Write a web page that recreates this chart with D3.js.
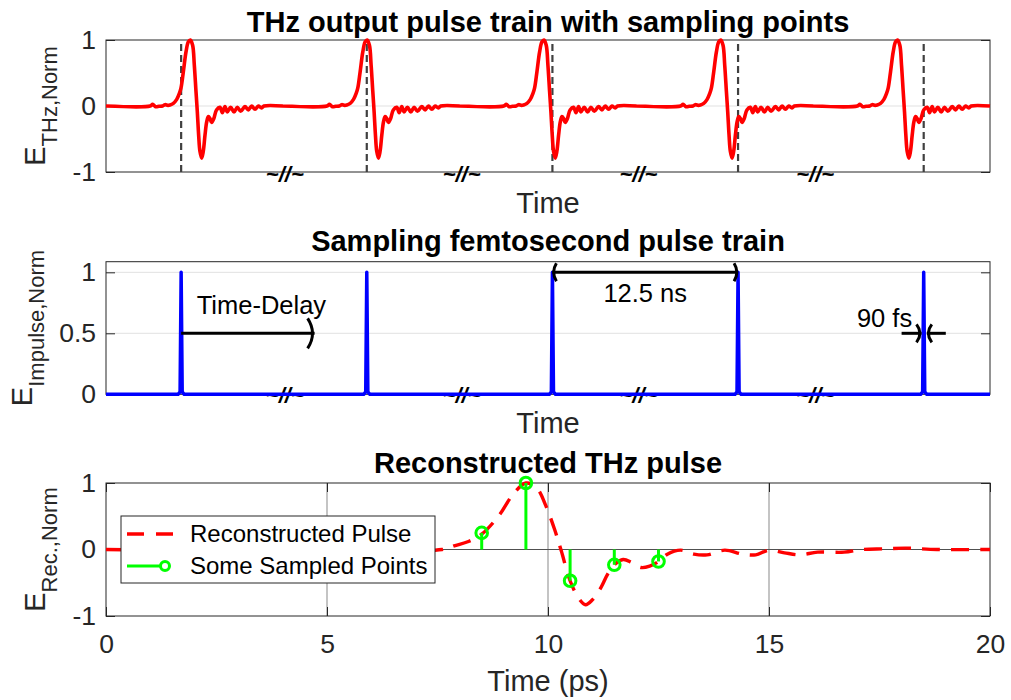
<!DOCTYPE html>
<html>
<head>
<meta charset="utf-8">
<script src="https://cdn.jsdelivr.net/npm/d3@7"></script>
<style>
  html, body { margin: 0; padding: 0; background: #fff; }
  svg { display: block; font-family: "Liberation Sans", Arial, Helvetica, sans-serif; }
</style>
</head>
<body>
<svg id="chart" width="1011" height="700"></svg>
<script>
// ---- data -------------------------------------------------------------
// One THz pulse over a 20 ps window: time (ps) and normalised field
const thzPulseTime  = [0, 5.0, 5.28, 5.6, 6.0, 6.4, 6.67, 7.0, 7.24, 7.62, 8.0, 8.3, 8.48, 8.75,
                       9.05, 9.31, 9.54, 9.8, 9.99, 10.18, 10.33, 10.48, 10.63, 10.82, 11.0, 11.2,
                       11.39, 11.58, 11.76, 11.95, 12.2, 12.5, 12.9, 13.16, 13.46, 13.72, 14.1, 14.48,
                       14.85, 15.23, 15.72, 16.1, 16.48, 16.86, 17.23, 17.6, 17.87, 20];
const thzPulseField = [0, 0, 0.025, -0.01, -0.005, 0, 0.02, 0.01, 0.015, 0.04, 0.1, 0.19, 0.27, 0.52,
                       0.82, 0.97, 1.0, 0.92, 0.62, 0.22, -0.09, -0.44, -0.69, -0.79, -0.69, -0.44,
                       -0.24, -0.16, -0.19, -0.25, -0.19, -0.06, -0.02, -0.1, -0.01, -0.09, -0.02, -0.09,
                       -0.02, -0.08, -0.01, -0.06, 0, -0.05, 0, -0.03, 0, 0];
// Start of each repeated 20 ps window in the pulse train
const pulseWindowStarts = [0, 20, 40, 60, 80];
// Femtosecond sampling instants (display time, ps)
const samplingTimes = [8.5, 29.5, 50.5, 71.5, 92.5];
// Shape of one femtosecond impulse around its instant
const impulseOffsets = [-0.35, -0.12, 0, 0.12, 0.35];
const impulseValues  = [0, 0.02, 1, 0.02, 0];
// Positions of the "~//~" axis-break marks
const breakTimes = [20, 40, 60, 80];

// Reconstructed THz pulse (ps, normalised)
const recTime  = [0, 7.6, 7.9, 8.2, 8.5, 8.9, 9.2, 9.5, 9.75, 9.95, 10.15, 10.3, 10.5, 10.7, 10.85,
                  11.0, 11.2, 11.35, 11.5, 11.7, 11.9, 12.1, 12.3, 12.5, 12.7, 13.0, 13.3, 13.6, 14.0,
                  14.4, 14.7, 15.0, 15.35, 15.7, 16.1, 16.7, 17.1, 17.6, 18.1, 18.8, 20];
const recField = [0, 0, 0.06, 0.12, 0.23, 0.52, 0.82, 1.0, 0.92, 0.66, 0.3, -0.02, -0.47, -0.74, -0.83,
                  -0.76, -0.57, -0.37, -0.23, -0.15, -0.2, -0.27, -0.25, -0.18, -0.07, -0.01, -0.07, -0.08, -0.01,
                  -0.07, -0.08, -0.01, -0.05, -0.08, -0.04, -0.04, 0, 0.01, 0.02, 0, 0];
// Sampled points shown as stems
const sampleTime  = [8.5, 9.5, 10.5, 11.5, 12.5];
const sampleField = [0.25, 1.0, -0.47, -0.23, -0.18];

// Tick values
const yTicksTrain   = [-1, 0, 1];
const yTicksImpulse = [0, 0.5, 1];
const yTicksRec     = [-1, 0, 1];
const xTicksRec     = [0, 5, 10, 15, 20];

// ---- layout -----------------------------------------------------------
const svg = d3.select("#chart");
const X0 = 106, X1 = 990, XC = (X0 + X1) / 2;
const AX = "#262626";
const FONT = '"Liberation Sans", Arial, Helvetica, sans-serif';

const xTrain = d3.scaleLinear().domain([0, 100]).range([X0, X1]);
const y1 = d3.scaleLinear().domain([-1, 1]).range([172, 40]);
const y2 = d3.scaleLinear().domain([0, 1.087]).range([394.3, 261.7]);
const xRec = d3.scaleLinear().domain([0, 20]).range([X0, X1]);
const y3 = d3.scaleLinear().domain([-1, 1]).range([616, 483]);

function styleAxis(g) {
  g.select(".domain").remove();
  g.attr("font-family", FONT).attr("font-size", 26.5);
  g.selectAll(".tick line").attr("stroke", AX).attr("stroke-width", 1);
  g.selectAll(".tick text").attr("fill", AX);
}

// box, inward ticks on all sides, optional light horizontal grid
function drawFrame(y, yTicks, gridY, x, xTicks) {
  const g = svg.append("g");
  const top = y.range()[1], bot = y.range()[0];
  if (gridY) {
    g.selectAll(null).data(gridY).join("line")
      .attr("x1", X0).attr("x2", X1)
      .attr("y1", d => y(d)).attr("y2", d => y(d))
      .attr("stroke", "#e1e1e1").attr("stroke-width", 1);
  }
  g.append("rect").attr("x", X0).attr("y", top)
    .attr("width", X1 - X0).attr("height", bot - top)
    .attr("fill", "none").attr("stroke", AX).attr("stroke-width", 1);
  g.append("g").attr("transform", `translate(${X0},0)`)
    .call(d3.axisLeft(y).tickValues(yTicks).tickSize(-9).tickPadding(10).tickFormat(d => String(d)))
    .call(styleAxis);
  g.append("g").attr("transform", `translate(${X1},0)`)
    .call(d3.axisRight(y).tickValues(yTicks).tickSize(-9).tickFormat(""))
    .call(styleAxis);
  if (x) {
    g.append("g").attr("transform", `translate(0,${bot})`)
      .call(d3.axisBottom(x).tickValues(xTicks).tickSize(-9).tickPadding(18.5).tickFormat(d => String(d)))
      .call(styleAxis);
    g.append("g").attr("transform", `translate(0,${top})`)
      .call(d3.axisTop(x).tickValues(xTicks).tickSize(-9).tickFormat(""))
      .call(styleAxis);
  }
  return g;
}

function title(text, baseline) {
  svg.append("text").attr("x", XC).attr("y", baseline)
    .attr("text-anchor", "middle").attr("font-weight", "bold")
    .attr("font-size", 29).attr("fill", "#000").text(text);
}
function xLabel(text, baseline) {
  svg.append("text").attr("x", XC).attr("y", baseline)
    .attr("text-anchor", "middle").attr("font-size", 29).attr("fill", AX).text(text);
}
function yLabel(main, sub, x, cy) {
  const t = svg.append("text")
    .attr("transform", `translate(${x},${cy}) rotate(-90)`)
    .attr("text-anchor", "middle").attr("fill", AX);
  t.append("tspan").attr("font-size", 29).text(main);
  t.append("tspan").attr("font-size", 22).attr("dy", 12).text(sub);
}
function breakMarks(y) {
  svg.append("g").selectAll("text").data(breakTimes).join("text")
    .attr("x", d => xTrain(d) + 2).attr("y", y)
    .attr("text-anchor", "middle").attr("font-size", 22)
    .attr("font-weight", "bold").attr("font-style", "italic")
    .attr("fill", "#000").text("~//~");
}

// ---- panel 1: THz pulse train ------------------------------------------
drawFrame(y1, yTicksTrain, [0]);
title("THz output pulse train with sampling points", 31.7);
xLabel("Time", 212.8);
yLabel("E", "THz,Norm", 45, 106);

const trainPoints = pulseWindowStarts.flatMap(s =>
  thzPulseTime.map((t, i) => [s + t, thzPulseField[i]]));

svg.append("g").selectAll("line").data(samplingTimes).join("line")
  .attr("x1", d => xTrain(d)).attr("x2", d => xTrain(d))
  .attr("y1", y1(-1)).attr("y2", y1(1))
  .attr("stroke", "#404040").attr("stroke-width", 2.2)
  .attr("stroke-dasharray", "7,4");

svg.append("path").datum(trainPoints)
  .attr("d", d3.line().x(d => xTrain(d[0])).y(d => y1(d[1])).curve(d3.curveCatmullRom.alpha(0.5)))
  .attr("fill", "none").attr("stroke", "#ff0000").attr("stroke-width", 3.6)
  .attr("stroke-linejoin", "round");

breakMarks(182);

// ---- panel 2: femtosecond sampling pulses -------------------------------
drawFrame(y2, yTicksImpulse, [0.5, 1]);
title("Sampling femtosecond pulse train", 251);
xLabel("Time", 432.5);
yLabel("E", "Impulse,Norm", 32, 328);

breakMarks(403);

const impulsePoints = [[0, 0]].concat(
  samplingTimes.flatMap(s => impulseOffsets.map((o, i) => [s + o, impulseValues[i]])),
  [[100, 0]]);
svg.append("path").datum(impulsePoints)
  .attr("d", d3.line().x(d => xTrain(d[0])).y(d => y2(d[1])))
  .attr("fill", "none").attr("stroke", "#0000ff").attr("stroke-width", 3.5)
  .attr("stroke-linejoin", "round");

// annotations
const ann = svg.append("g").attr("stroke", "#000").attr("stroke-width", 3)
  .attr("fill", "none").attr("stroke-linecap", "butt");
function hLine(t0, t1, v) {
  ann.append("line").attr("x1", xTrain(t0)).attr("x2", xTrain(t1))
    .attr("y1", y2(v)).attr("y2", y2(v));
}
// head at tip (t, v); dir = +1 points right, -1 points left
function head(t, v, dir, depth, half) {
  const x = xTrain(t), y = y2(v);
  ann.append("path").attr("d",
    `M${x - dir * depth},${y - half} Q${x + dir * depth * 0.4},${y} ${x - dir * depth},${y + half}`);
}
hLine(8.5, 23.6, 0.5);
head(23.6, 0.5, 1, 7, 15);

hLine(50.5, 71.5, 1.0);
head(50.5, 1.0, -1, 4, 9);
head(71.5, 1.0, 1, 4, 9);

hLine(90.0, 92.25, 0.5);
head(92.25, 0.5, 1, 5, 9);
hLine(95.0, 92.85, 0.5);
head(92.85, 0.5, -1, 5, 9);

const annText = svg.append("g").attr("font-size", 25.5).attr("fill", "#000");
annText.append("text").attr("x", xTrain(10.26)).attr("y", y2(0.656)).text("Time-Delay");
annText.append("text").attr("x", xTrain(61.0)).attr("y", y2(0.76))
  .attr("text-anchor", "middle").text("12.5 ns");
annText.append("text").attr("x", xTrain(91.2)).attr("y", y2(0.554))
  .attr("text-anchor", "end").text("90 fs");

// ---- panel 3: reconstructed pulse ---------------------------------------
svg.append("g").selectAll("line").data([5, 10, 15]).join("line")
  .attr("x1", d => xRec(d)).attr("x2", d => xRec(d))
  .attr("y1", y3(-1)).attr("y2", y3(1))
  .attr("stroke", "#ababab").attr("stroke-width", 1.4);
drawFrame(y3, yTicksRec, null, xRec, xTicksRec);
title("Reconstructed THz pulse", 473.3);
xLabel("Time (ps)", 691);
yLabel("E", "Rec.,Norm", 45, 549.5);

// stem baseline
svg.append("line").attr("x1", X0).attr("x2", X1)
  .attr("y1", y3(0)).attr("y2", y3(0))
  .attr("stroke", "#505050").attr("stroke-width", 1.2);

svg.append("path").datum(recTime.map((t, i) => [t, recField[i]]))
  .attr("d", d3.line().x(d => xRec(d[0])).y(d => y3(d[1])).curve(d3.curveCatmullRom.alpha(0.5)))
  .attr("fill", "none").attr("stroke", "#ff0000").attr("stroke-width", 3.4)
  .attr("stroke-dasharray", "18,11");

const stems = svg.append("g").selectAll("g").data(sampleTime.map((t, i) => [t, sampleField[i]])).join("g");
stems.append("line")
  .attr("x1", d => xRec(d[0])).attr("x2", d => xRec(d[0]))
  .attr("y1", y3(0)).attr("y2", d => y3(d[1]))
  .attr("stroke", "#00ff00").attr("stroke-width", 3);
stems.append("circle")
  .attr("cx", d => xRec(d[0])).attr("cy", d => y3(d[1])).attr("r", 5.8)
  .attr("fill", "none").attr("stroke", "#00ff00").attr("stroke-width", 3);

// legend
const lg = svg.append("g");
lg.append("rect").attr("x", 121).attr("y", 516).attr("width", 314).attr("height", 67)
  .attr("fill", "#fff").attr("stroke", AX).attr("stroke-width", 1);
lg.append("line").attr("x1", 127).attr("x2", 173).attr("y1", 534).attr("y2", 534)
  .attr("stroke", "#ff0000").attr("stroke-width", 3.4).attr("stroke-dasharray", "17,12");
lg.append("line").attr("x1", 127).attr("x2", 165).attr("y1", 566).attr("y2", 566)
  .attr("stroke", "#00ff00").attr("stroke-width", 3);
lg.append("circle").attr("cx", 165).attr("cy", 566).attr("r", 4.5)
  .attr("fill", "#fff").attr("stroke", "#00ff00").attr("stroke-width", 3);
lg.append("text").attr("x", 190).attr("y", 534).attr("dy", "0.35em")
  .attr("font-size", 24).attr("fill", "#000").text("Reconstructed Pulse");
lg.append("text").attr("x", 190).attr("y", 566).attr("dy", "0.35em")
  .attr("font-size", 24).attr("fill", "#000").text("Some Sampled Points");
</script>
</body>
</html>
